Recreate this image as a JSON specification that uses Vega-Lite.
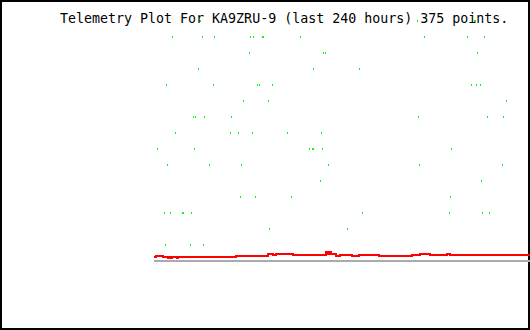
{
  "$schema": "https://vega.github.io/schema/vega-lite/v6.json",
  "width": 530,
  "height": 330,
  "autosize": "none",
  "padding": 0,
  "background": "white",
  "config": {"view": {"stroke": "black", "strokeWidth": 4}},
  "title": {
    "text": "Telemetry Plot For KA9ZRU-9 (last 240 hours) 375 points.",
    "anchor": "start",
    "frame": "group",
    "dx": 60,
    "offset": -36,
    "baseline": "alphabetic",
    "font": "DejaVu Sans Mono",
    "fontSize": 13.3,
    "fontWeight": "normal",
    "color": "black"
  },
  "datasets": {
    "baseline": [{"from": -1, "to": 375, "value": 0}],
    "red": [
      {"point": -1, "value": 0.25},
      {"point": 1, "value": 0.3125},
      {"point": 8, "value": 0.25},
      {"point": 13, "value": 0.1875},
      {"point": 14, "value": 0.25},
      {"point": 16, "value": 0.1875},
      {"point": 17, "value": 0.25},
      {"point": 22, "value": 0.1875},
      {"point": 23, "value": 0.25},
      {"point": 81, "value": 0.3125},
      {"point": 113, "value": 0.4375},
      {"point": 118, "value": 0.375},
      {"point": 121, "value": 0.4375},
      {"point": 138, "value": 0.375},
      {"point": 171, "value": 0.5625},
      {"point": 172, "value": 0.4375},
      {"point": 174, "value": 0.5625},
      {"point": 176, "value": 0.4375},
      {"point": 181, "value": 0.3125},
      {"point": 185, "value": 0.375},
      {"point": 197, "value": 0.3125},
      {"point": 204, "value": 0.375},
      {"point": 224, "value": 0.3125},
      {"point": 257, "value": 0.375},
      {"point": 265, "value": 0.4375},
      {"point": 275, "value": 0.375},
      {"point": 292, "value": 0.4375},
      {"point": 295, "value": 0.375},
      {"point": 375, "value": 0.375}
    ],
    "green": [
      {"point": 44, "value": 15}, {"point": 45, "value": 15}, {"point": 91, "value": 15}, {"point": 165, "value": 15}, {"point": 211, "value": 15}, {"point": 262, "value": 15}, {"point": 319, "value": 15}, {"point": 320, "value": 15},
      {"point": 17, "value": 14}, {"point": 47, "value": 14}, {"point": 59, "value": 14}, {"point": 95, "value": 14}, {"point": 98, "value": 14}, {"point": 107, "value": 14}, {"point": 108, "value": 14}, {"point": 145, "value": 14}, {"point": 269, "value": 14}, {"point": 312, "value": 14}, {"point": 329, "value": 14},
      {"point": 94, "value": 13}, {"point": 168, "value": 13}, {"point": 170, "value": 13}, {"point": 322, "value": 13},
      {"point": 43, "value": 12}, {"point": 158, "value": 12}, {"point": 204, "value": 12},
      {"point": 11, "value": 11}, {"point": 58, "value": 11}, {"point": 102, "value": 11}, {"point": 104, "value": 11}, {"point": 117, "value": 11}, {"point": 316, "value": 11}, {"point": 321, "value": 11}, {"point": 325, "value": 11},
      {"point": 88, "value": 10}, {"point": 113, "value": 10}, {"point": 351, "value": 10},
      {"point": 38, "value": 9}, {"point": 40, "value": 9}, {"point": 49, "value": 9}, {"point": 76, "value": 9}, {"point": 263, "value": 9}, {"point": 332, "value": 9}, {"point": 348, "value": 9},
      {"point": 20, "value": 8}, {"point": 75, "value": 8}, {"point": 83, "value": 8}, {"point": 97, "value": 8}, {"point": 132, "value": 8}, {"point": 166, "value": 8},
      {"point": 2, "value": 7}, {"point": 39, "value": 7}, {"point": 154, "value": 7}, {"point": 157, "value": 7}, {"point": 158, "value": 7}, {"point": 167, "value": 7}, {"point": 296, "value": 7},
      {"point": 12, "value": 6}, {"point": 54, "value": 6}, {"point": 86, "value": 6}, {"point": 173, "value": 6}, {"point": 264, "value": 6}, {"point": 347, "value": 6},
      {"point": 165, "value": 5}, {"point": 326, "value": 5},
      {"point": 85, "value": 4}, {"point": 100, "value": 4}, {"point": 136, "value": 4}, {"point": 295, "value": 4},
      {"point": 9, "value": 3}, {"point": 15, "value": 3}, {"point": 27, "value": 3}, {"point": 28, "value": 3}, {"point": 36, "value": 3}, {"point": 207, "value": 3}, {"point": 294, "value": 3}, {"point": 327, "value": 3}, {"point": 334, "value": 3},
      {"point": 114, "value": 2}, {"point": 192, "value": 2},
      {"point": 10, "value": 1}, {"point": 35, "value": 1}, {"point": 48, "value": 1}
    ]
  },
  "resolve": {"scale": {"x": "shared", "y": "shared"}},
  "layer": [
    {
      "data": {"name": "baseline"},
      "mark": {"type": "rule", "color": "#aaaaaa", "strokeWidth": 2},
      "encoding": {
        "x": {"field": "from", "type": "quantitative", "scale": {"domain": [-155, 375], "nice": false, "zero": false}, "axis": null},
        "x2": {"field": "to"},
        "y": {"field": "value", "type": "quantitative", "scale": {"domain": [-4.3125, 16.3125], "nice": false, "zero": false}, "axis": null}
      }
    },
    {
      "data": {"name": "red"},
      "mark": {"type": "line", "color": "#ff0000", "strokeWidth": 2, "interpolate": "step-after"},
      "encoding": {
        "x": {"field": "point", "type": "quantitative", "axis": null},
        "y": {"field": "value", "type": "quantitative", "axis": null}
      }
    },
    {
      "data": {"name": "green"},
      "mark": {"type": "point", "shape": "M-0.5,-1H0.5V1H-0.5Z", "size": 4, "filled": true, "color": "#00ff00", "opacity": 1, "strokeWidth": 0, "xOffset": 0.5},
      "encoding": {
        "x": {"field": "point", "type": "quantitative", "axis": null},
        "y": {"field": "value", "type": "quantitative", "axis": null}
      }
    }
  ]
}
